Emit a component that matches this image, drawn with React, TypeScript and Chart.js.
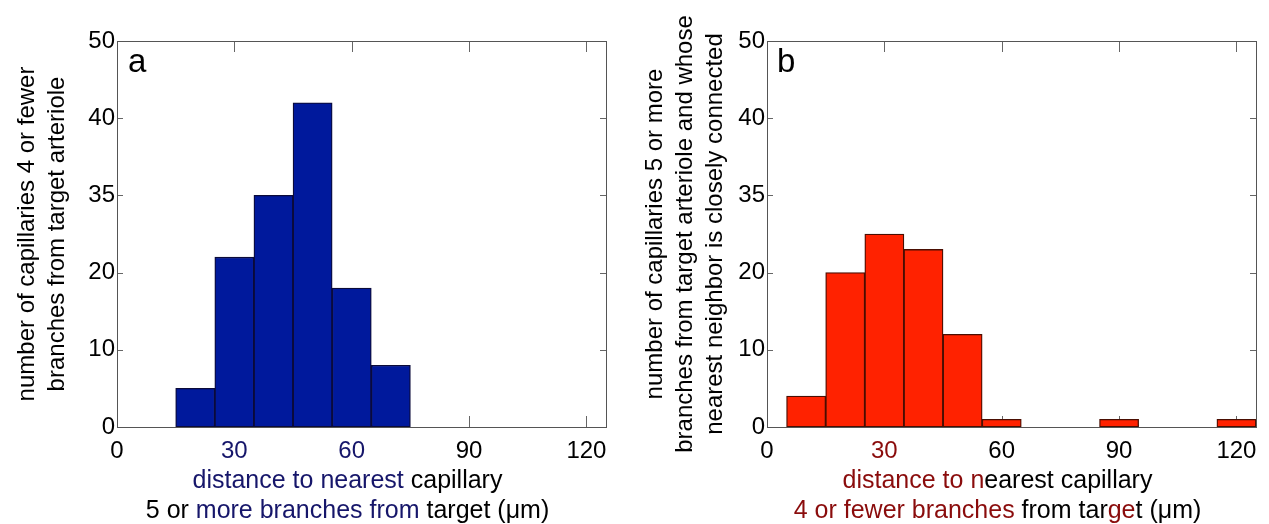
import React, { useEffect, useRef } from 'react';
import { Chart, registerables } from 'chart.js';

Chart.register(...registerables);

// ---- data ----
const binCentersA = [20, 30, 40, 50, 60, 70];
const countsA = [5, 22, 30, 42, 18, 8];
const binCentersB = [10, 20, 30, 40, 50, 60, 70, 80, 90, 100, 110, 120];
const countsB = [4, 20, 25, 23, 12, 1, 0, 0, 1, 0, 0, 1];
const xTickValues = [0, 30, 60, 90, 120];
const yTickValues = [0, 10, 20, 30, 40, 50];
const yTickLabels = ['0', '10', '20', '35', '40', '50'];

const FONT = '"Liberation Sans", Arial, Helvetica, sans-serif';
const BLACK = '#000000';
const NAVY = '#16166a';
const DRED = '#8a0c0c';

type Seg = [string, string];

interface PanelCfg {
  centers: number[];
  counts: number[];
  fill: string;
  edge: string;
  accent: string;
  accentTicks: number[];
  letter: string;
  yTitle: string[];
  yTitleBase: number;
  xTitle: Seg[][];
  padLeft: number;
  padRight: number;
  letterDx: number;
}

const panelA: PanelCfg = {
  centers: binCentersA,
  counts: countsA,
  fill: '#00199c',
  edge: '#0b0b3a',
  accent: NAVY,
  accentTicks: [30, 60],
  letter: 'a',
  yTitle: ['number of capillaries 4 or fewer', 'branches from target arteriole'],
  yTitleBase: 34,
  xTitle: [
    [['distance to nearest', NAVY], [' capillary', BLACK]],
    [['5 or ', BLACK], ['more branches from', NAVY], [' target (\u03bcm)', BLACK]],
  ],
  padLeft: 117,
  padRight: 28,
  letterDx: 11,
};

const panelB: PanelCfg = {
  centers: binCentersB,
  counts: countsB,
  fill: '#ff2200',
  edge: '#4a0e02',
  accent: DRED,
  accentTicks: [30],
  letter: 'b',
  yTitle: [
    'number of capillaries 5 or more',
    'branches from target arteriole and whose',
    'nearest neighbor is closely connected',
  ],
  yTitleBase: 28,
  xTitle: [
    [['distance to n', DRED], ['earest capillary', BLACK]],
    [['4 or fewer branches', DRED], [' from tar', BLACK], ['ge', DRED], ['t (\u03bcm)', BLACK]],
  ],
  padLeft: 133,
  padRight: 13,
  letterDx: 10,
};

function drawSegs(ctx: CanvasRenderingContext2D, segs: Seg[], cx: number, y: number) {
  ctx.textAlign = 'left';
  const total = segs.reduce((s, [t]) => s + ctx.measureText(t).width, 0);
  let x = cx - total / 2;
  for (const [t, c] of segs) {
    ctx.fillStyle = c;
    ctx.fillText(t, x, y);
    x += ctx.measureText(t).width;
  }
}

const decorPlugin = {
  id: 'decor',
  beforeDatasetsDraw(chart: any) {
    const { ctx, chartArea: a, scales } = chart;
    ctx.save();
    ctx.strokeStyle = '#666666';
    ctx.lineWidth = 1;
    ctx.beginPath();
    for (const v of xTickValues) {
      const x = Math.round(scales.x.getPixelForValue(v)) + 0.5;
      ctx.moveTo(x, a.bottom);
      ctx.lineTo(x, a.bottom - 11);
      ctx.moveTo(x, a.top);
      ctx.lineTo(x, a.top + 11);
    }
    for (const v of yTickValues) {
      const y = Math.round(scales.y.getPixelForValue(v)) + 0.5;
      ctx.moveTo(a.left, y);
      ctx.lineTo(a.left + 6, y);
      ctx.moveTo(a.right, y);
      ctx.lineTo(a.right - 6, y);
    }
    ctx.stroke();
    ctx.restore();
  },
  afterDatasetsDraw(chart: any, _args: any, opts: any) {
    const cfg: PanelCfg = opts.cfg;
    const { ctx, chartArea: a } = chart;
    ctx.save();
    // box
    ctx.strokeStyle = '#555555';
    ctx.lineWidth = 1;
    ctx.strokeRect(Math.round(a.left) + 0.5, Math.round(a.top) + 0.5, Math.round(a.right - a.left), Math.round(a.bottom - a.top));
    // letter
    ctx.fillStyle = BLACK;
    ctx.font = `33px ${FONT}`;
    ctx.textAlign = 'left';
    ctx.textBaseline = 'alphabetic';
    ctx.fillText(cfg.letter, a.left + cfg.letterDx, a.top + 31);
    // x title
    ctx.font = `25px ${FONT}`;
    const cx = (a.left + a.right) / 2 - 14;
    cfg.xTitle.forEach((line, i) => drawSegs(ctx, line, cx, a.bottom + 61 + i * 30));
    // y title
    ctx.font = `24px ${FONT}`;
    const cy = (a.top + a.bottom) / 2;
    ctx.fillStyle = BLACK;
    ctx.textAlign = 'center';
    cfg.yTitle.forEach((line, i) => {
      ctx.save();
      ctx.translate(cfg.yTitleBase + i * 30, cy);
      ctx.rotate(-Math.PI / 2);
      ctx.fillText(line, 0, 0);
      ctx.restore();
    });
    ctx.restore();
  },
};

function Panel({ cfg, left, width }: { cfg: PanelCfg; left: number; width: number }) {
  const ref = useRef<HTMLCanvasElement>(null);
  useEffect(() => {
    if (!ref.current) return;
    const chart = new Chart(ref.current, {
      type: 'bar',
      data: {
        datasets: [
          {
            data: cfg.centers.map((c, i) => ({ x: c, y: cfg.counts[i] })),
            backgroundColor: cfg.fill,
            borderColor: cfg.edge,
            borderWidth: 1.3,
            borderSkipped: false,
            barPercentage: 1,
            categoryPercentage: 1,
          },
        ],
      },
      options: {
        animation: false,
        responsive: false,
        maintainAspectRatio: false,
        layout: { padding: { left: 0, top: 41, right: cfg.padRight, bottom: 0 } },
        plugins: {
          legend: { display: false },
          tooltip: { enabled: false },
          decor: { cfg },
        } as any,
        scales: {
          x: {
            type: 'linear',
            min: 0,
            max: 125,
            offset: false,
            grid: { display: false, drawTicks: false },
            border: { display: false },
            afterBuildTicks: (s: any) => {
              s.ticks = xTickValues.map((v) => ({ value: v }));
            },
            afterFit: (s: any) => {
              s.height = 97;
            },
            ticks: {
              font: { family: FONT, size: 24 },
              color: (c: any) => (c.tick && cfg.accentTicks.includes(c.tick.value) ? cfg.accent : BLACK),
              padding: 10,
              maxRotation: 0,
              autoSkip: false,
              callback: (v: any) => String(v),
            },
          },
          y: {
            type: 'linear',
            min: 0,
            max: 50,
            grid: { display: false, drawTicks: false },
            border: { display: false },
            afterBuildTicks: (s: any) => {
              s.ticks = yTickValues.map((v) => ({ value: v }));
            },
            afterFit: (s: any) => {
              s.width = cfg.padLeft;
            },
            ticks: {
              font: { family: FONT, size: 24 },
              color: BLACK,
              padding: 2,
              autoSkip: false,
              callback: (_v: any, i: number) => yTickLabels[i],
            },
          },
        } as any,
      },
      plugins: [decorPlugin as any],
    });
    return () => chart.destroy();
  }, [cfg]);
  return (
    <canvas
      ref={ref}
      width={width}
      height={524}
      style={{ position: 'absolute', left, top: 0, width, height: 524 }}
    />
  );
}

export default function App() {
  return (
    <div style={{ position: 'fixed', left: 0, top: 0, width: 1269, height: 524, background: '#ffffff', overflow: 'hidden' }}>
      <Panel cfg={panelA} left={0} width={634} />
      <Panel cfg={panelB} left={634} width={635} />
    </div>
  );
}
